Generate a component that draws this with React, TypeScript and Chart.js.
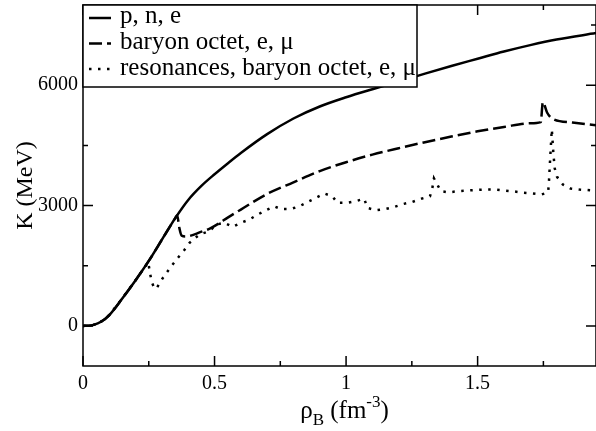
import { useEffect, useRef } from "react";
import { Chart, registerables } from "chart.js";

Chart.register(...registerables);

// ---- data ----
const solidX = [0, 0.02, 0.04, 0.07, 0.1, 0.15, 0.2, 0.25, 0.3, 0.35, 0.4, 0.45, 0.5, 0.55, 0.6, 0.7, 0.8, 0.9, 1.0, 1.1, 1.2, 1.3, 1.4, 1.5, 1.6, 1.7, 1.8, 1.95];
const solidY = [0, 5, 25, 110, 270, 690, 1140, 1620, 2150, 2680, 3140, 3490, 3780, 4050, 4310, 4780, 5170, 5470, 5700, 5900, 6090, 6290, 6480, 6660, 6840, 7000, 7140, 7300];

const dashX = [0, 0.02, 0.04, 0.07, 0.1, 0.15, 0.2, 0.25, 0.3, 0.35, 0.358, 0.366, 0.375, 0.392, 0.41, 0.443, 0.48, 0.51, 0.55, 0.6, 0.7, 0.8, 0.9, 1.0, 1.1, 1.2, 1.3, 1.4, 1.5, 1.6, 1.7, 1.74, 1.748, 1.764, 1.783, 1.86, 1.95];
const dashY = [0, 5, 25, 110, 270, 690, 1140, 1620, 2150, 2680, 2760, 2450, 2250, 2230, 2250, 2330, 2420, 2530, 2700, 2900, 3290, 3580, 3860, 4080, 4270, 4430, 4580, 4720, 4850, 4960, 5050, 5080, 5580, 5320, 5170, 5070, 5000];

const dotX = [0, 0.02, 0.04, 0.07, 0.1, 0.15, 0.2, 0.248, 0.255, 0.262, 0.27, 0.278, 0.303, 0.335, 0.36, 0.386, 0.405, 0.443, 0.48, 0.506, 0.537, 0.569, 0.6, 0.632, 0.664, 0.696, 0.727, 0.752, 0.79, 0.822, 0.854, 0.885, 0.917, 0.948, 0.967, 1.005, 1.037, 1.069, 1.081, 1.113, 1.151, 1.183, 1.218, 1.252, 1.286, 1.319, 1.328, 1.334, 1.343, 1.36, 1.389, 1.43, 1.461, 1.5, 1.53, 1.57, 1.604, 1.64, 1.672, 1.71, 1.743, 1.768, 1.771, 1.776, 1.782, 1.788, 1.793, 1.802, 1.824, 1.853, 1.887, 1.95];
const dotY = [0, 5, 25, 110, 270, 690, 1140, 1590, 1300, 1080, 960, 920, 1190, 1480, 1690, 1900, 2070, 2280, 2360, 2525, 2570, 2470, 2570, 2650, 2775, 2885, 2980, 2915, 2915, 2980, 3090, 3190, 3300, 3230, 3070, 3070, 3110, 3170, 2940, 2885, 2915, 2965, 3040, 3090, 3170, 3230, 3440, 3680, 3570, 3360, 3330, 3360, 3375, 3390, 3400, 3400, 3375, 3350, 3320, 3300, 3275, 3330, 3570, 4200, 4900, 4300, 3930, 3715, 3525, 3425, 3400, 3370];

const seriesLabels = ["p, n, e", "baryon octet, e, μ", "resonances, baryon octet, e, μ"];

const xMin = 0;
const xMax = 1.95;
const yMin = -1000;
const yMax = 8000;
const xMajorTicks = [0, 0.5, 1, 1.5];
const xTickLabels = ["0", "0.5", "1", "1.5"];
const xMinorTicks = [0.25, 0.75, 1.25, 1.75];
const yMajorTicks = [0, 3000, 6000];
const yTickLabels = ["0", "3000", "6000"];
const yMinorTicks = [1500, 4500, 7500];

const yTitle = "K (MeV)";

const SERIF = '"Liberation Serif", "Times New Roman", serif';

const toPoints = (xs: number[], ys: number[]) => xs.map((x, i) => ({ x, y: ys[i] }));

const dashes: number[][] = [[], [13, 5], [2.5, 6.5]];

const decorPlugin = {
  id: "decor",
  afterDraw(chart: any) {
    const ctx: CanvasRenderingContext2D = chart.ctx;
    const { left, right, top, bottom } = chart.chartArea;
    const xs = chart.scales.x;
    const ys = chart.scales.y;
    ctx.save();
    ctx.strokeStyle = "#000";
    ctx.lineWidth = 1.5;
    ctx.setLineDash([]);
    ctx.strokeRect(left, top, right - left, bottom - top);

    const major = 10;
    const minor = 5;
    ctx.beginPath();
    const xTick = (v: number, len: number) => {
      const px = xs.getPixelForValue(v);
      ctx.moveTo(px, bottom);
      ctx.lineTo(px, bottom - len);
      ctx.moveTo(px, top);
      ctx.lineTo(px, top + len);
    };
    const yTick = (v: number, len: number) => {
      const py = ys.getPixelForValue(v);
      ctx.moveTo(left, py);
      ctx.lineTo(left + len, py);
      ctx.moveTo(right, py);
      ctx.lineTo(right - len, py);
    };
    xMajorTicks.forEach((v) => xTick(v, major));
    xMinorTicks.forEach((v) => xTick(v, minor));
    yMajorTicks.forEach((v) => yTick(v, major));
    yMinorTicks.forEach((v) => yTick(v, minor));
    ctx.stroke();

    // legend box
    const bx0 = left;
    const by0 = top;
    const bx1 = 417;
    const by1 = 87;
    ctx.fillStyle = "#fff";
    ctx.fillRect(bx0, by0, bx1 - bx0, by1 - by0);
    ctx.lineWidth = 1.5;
    ctx.strokeRect(bx0, by0, bx1 - bx0, by1 - by0);
    const rowY = [18, 43.5, 69];
    const baseY = [23, 49, 75];
    ctx.font = `25px ${SERIF}`;
    ctx.fillStyle = "#000";
    ctx.textAlign = "left";
    ctx.textBaseline = "alphabetic";
    seriesLabels.forEach((lab, i) => {
      ctx.beginPath();
      ctx.lineWidth = 2.5;
      ctx.setLineDash(dashes[i]);
      ctx.moveTo(89, rowY[i]);
      ctx.lineTo(111, rowY[i]);
      ctx.stroke();
      ctx.setLineDash([]);
      ctx.fillText(lab, 120, baseY[i]);
    });

    // x title: rho_B (fm^-3)
    const big = `25px ${SERIF}`;
    const small = `17px ${SERIF}`;
    const parts: [string, string, number][] = [
      ["ρ", big, 0],
      ["B", small, 7],
      [" (fm", big, 0],
      ["-3", small, -11],
      [")", big, 0],
    ];
    let total = 0;
    parts.forEach(([t, f]) => {
      ctx.font = f;
      total += ctx.measureText(t).width;
    });
    let cx = (left + right) / 2 + 5 - total / 2;
    const base = 418;
    parts.forEach(([t, f, dy]) => {
      ctx.font = f;
      ctx.fillText(t, cx, base + dy);
      cx += ctx.measureText(t).width;
    });

    // y title
    ctx.translate(32, (top + bottom) / 2);
    ctx.rotate(-Math.PI / 2);
    ctx.font = `24px ${SERIF}`;
    ctx.textAlign = "center";
    ctx.textBaseline = "alphabetic";
    ctx.fillText(yTitle, 0, 0);
    ctx.restore();
  },
};

export default function App() {
  const ref = useRef<HTMLCanvasElement | null>(null);
  useEffect(() => {
    if (!ref.current) return;
    const mk = (label: string, xs: number[], ys: number[], dash: number[], smooth: boolean) => ({
      label,
      data: toPoints(xs, ys),
      borderColor: "#000",
      backgroundColor: "#000",
      borderWidth: 2.5,
      borderDash: dash,
      borderCapStyle: "butt" as const,
      pointRadius: 0,
      tension: 0,
      cubicInterpolationMode: smooth ? ("monotone" as const) : ("default" as const),
      fill: false,
    });
    const chart = new Chart(ref.current, {
      type: "line",
      data: {
        datasets: [
          mk(seriesLabels[2], dotX, dotY, dashes[2], false),
          mk(seriesLabels[1], dashX, dashY, dashes[1], true),
          mk(seriesLabels[0], solidX, solidY, dashes[0], true),
        ],
      },
      options: {
        animation: false,
        responsive: false,
        maintainAspectRatio: false,
        devicePixelRatio: 1,
        layout: { padding: { left: 0, right: 0, top: 5, bottom: 0 } },
        plugins: { legend: { display: false }, tooltip: { enabled: false } },
        scales: {
          x: {
            type: "linear",
            min: xMin,
            max: xMax,
            grid: { display: false, drawTicks: false },
            border: { display: false },
            ticks: {
              color: "#000",
              font: { family: SERIF, size: 20 },
              padding: 6,
              maxRotation: 0,
              autoSkip: false,
              callback: (v: any) => {
                const i = xMajorTicks.indexOf(Number(v));
                return i >= 0 ? xTickLabels[i] : "";
              },
            },
            afterBuildTicks: (s: any) => {
              s.ticks = xMajorTicks.map((v) => ({ value: v }));
            },
            afterFit: (s: any) => {
              s.height = 65;
              s.paddingLeft = 0;
              s.paddingRight = 0;
            },
          },
          y: {
            type: "linear",
            min: yMin,
            max: yMax,
            grid: { display: false, drawTicks: false },
            border: { display: false },
            ticks: {
              color: "#000",
              font: { family: SERIF, size: 20 },
              padding: 5,
              autoSkip: false,
              callback: (v: any) => {
                const i = yMajorTicks.indexOf(Number(v));
                return i >= 0 ? yTickLabels[i] : "";
              },
            },
            afterBuildTicks: (s: any) => {
              s.ticks = yMajorTicks.map((v) => ({ value: v }));
            },
            afterFit: (s: any) => {
              s.width = 83;
              s.paddingTop = 0;
              s.paddingBottom = 0;
            },
          },
        },
      },
      plugins: [decorPlugin],
    });
    return () => chart.destroy();
  }, []);
  return (
    <div style={{ position: "fixed", left: 0, top: 0, width: 596, height: 431, background: "#fff" }}>
      <canvas ref={ref} width={596} height={431} style={{ width: 596, height: 431, display: "block" }} />
    </div>
  );
}
